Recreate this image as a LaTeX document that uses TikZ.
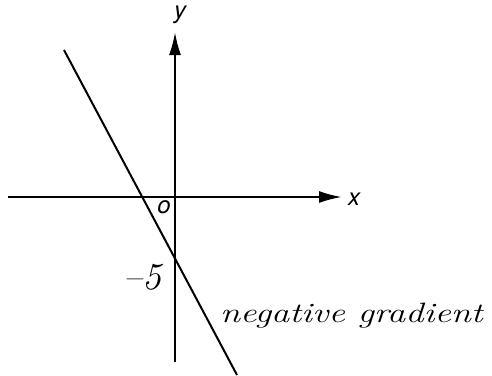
\documentclass[tikz,border=0pt]{standalone}
\usepackage{fontspec}
\setsansfont{TeX Gyre Heros}
\usetikzlibrary{arrows.meta}
\tikzstyle{axis}=[-{Latex[length=23pt,width=12pt]}, line width=2.2pt]
\tikzstyle{graph}=[line width=2pt]
\tikzstyle{alab}=[font=\sffamily\itshape\fontsize{24}{24}\selectfont, inner sep=0pt]
\tikzstyle{hand}=[font=\itshape\fontsize{28}{28}\selectfont, inner sep=0pt]

\begin{document}
\begin{tikzpicture}[x=1pt,y=-1pt]
\useasboundingbox (0,0) rectangle (492,375);
\coordinate (O) at (175,197);
\coordinate (xl) at (8,197);\coordinate (xr) at (342,197);
\coordinate (yb) at (175,362);\coordinate (yt) at (175,32);
\coordinate (lt) at (64,50);\coordinate (lb) at (237,375);
\draw[axis](xl)--(xr);\draw[axis](yb)--(yt);
\draw[graph](lt)--(lb);
\node[alab,anchor=west] (X) at (348,199) {x};
\node[alab,anchor=south] (Y) at (180,24) {y};
\node[alab] (Ol) at (164,207) {o};
\node[hand,font=\itshape\fontsize{38}{38}\selectfont] (M) at (142,277) {\textendash5};
\node[hand,anchor=west] (G) at (220,316) {\scalebox{1.3}[1]{negative gradient}};
\end{tikzpicture}
\end{document}
